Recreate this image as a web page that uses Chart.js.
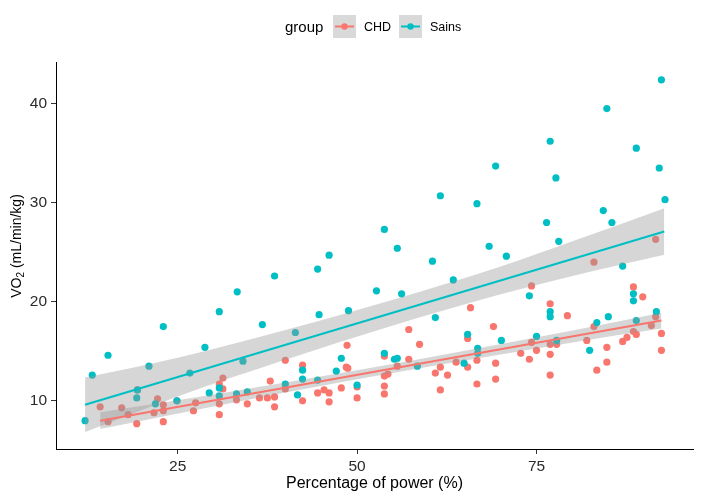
<!DOCTYPE html>
<html>
<head>
<meta charset="utf-8">
<script src="https://cdn.jsdelivr.net/npm/chart.js@4"></script>
<style>
  body { margin: 0; background: #fff; }
  #wrap { width: 701px; height: 501px; }
</style>
</head>
<body>
<div id="wrap"><canvas id="chart" width="701" height="501"></canvas></div>
<script>
// values
const groups = ["CHD", "Sains"];

const sainsX = [12.1, 13.1, 15.3, 19.4, 19.3, 21.9, 21.0, 23.0, 24.9, 26.7, 28.8, 29.4, 30.8, 30.8, 30.8,
  33.3, 33.2, 34.1, 34.7, 36.8, 38.5, 40.0, 41.4, 41.7, 42.4, 42.4, 44.5, 44.5, 44.7, 46.1, 47.1, 47.8,
  48.8, 50.0, 52.7, 53.8, 53.8, 55.2, 55.6, 55.6, 56.2, 58.4, 60.5, 60.9, 61.6, 63.4, 64.9, 65.4, 66.7,
  66.8, 66.8, 68.4, 69.3, 70.1, 70.8, 74.0, 75.0, 76.4, 76.9, 76.9, 76.9, 77.7, 77.8, 78.1, 82.4, 83.4,
  84.3, 84.8, 85.0, 85.5, 87.0, 88.5, 88.5, 88.9, 88.9, 91.7, 92.1, 92.4, 92.9];
const sainsY = [8.0, 12.6, 14.6, 11.1, 10.3, 9.7, 13.5, 17.5, 10.0, 12.8, 15.4, 10.8, 11.3, 10.5, 19.0,
  21.0, 10.7, 14.0, 10.9, 17.7, 22.6, 11.7, 16.9, 10.6, 13.1, 12.2, 23.3, 12.1, 18.7, 24.7, 13.0, 14.3,
  19.1, 11.6, 21.1, 27.3, 14.8, 14.2, 14.3, 25.4, 20.8, 13.5, 24.1, 18.4, 30.7, 22.2, 13.8, 16.7, 29.9,
  15.3, 14.8, 25.6, 33.7, 16.1, 24.6, 20.6, 16.5, 28.0, 36.2, 19.0, 18.5, 32.5, 16.1, 26.1, 15.1, 17.9,
  29.2, 39.5, 18.5, 28.0, 23.6, 20.8, 20.1, 35.5, 18.1, 19.0, 33.5, 42.4, 30.3];

const chdX = [14.2, 15.3, 17.2, 18.1, 19.3, 19.4, 21.7, 22.2, 23.0, 23.0, 23.0, 24.9, 27.2, 27.5, 30.8,
  31.3, 31.3, 30.8, 30.8, 33.2, 34.7, 36.4, 37.5, 37.9, 38.5, 38.5, 40.0, 40.0, 42.4, 42.4, 44.5, 45.4,
  46.1, 46.1, 47.8, 48.5, 48.7, 48.6, 50.0, 50.0, 53.8, 53.8, 53.8, 53.8, 54.3, 55.6, 57.2, 57.2, 58.7,
  60.9, 61.6, 61.6, 62.6, 63.8, 65.4, 65.4, 65.8, 66.7, 66.7, 69.0, 69.3, 69.3, 72.8, 74.0, 74.3, 74.3,
  75.0, 76.9, 76.9, 76.9, 76.9, 77.8, 79.3, 82.0, 83.0, 83.0, 83.4, 84.8, 84.8, 87.0, 87.6, 88.5, 88.5,
  88.9, 89.8, 91.0, 91.6, 91.6, 92.4, 92.4];
const chdY = [9.4, 7.9, 9.3, 8.6, 7.7, 11.1, 8.8, 10.2, 9.6, 9.0, 7.9, 10.0, 9.0, 9.8, 11.7,
  12.3, 11.2, 9.7, 8.6, 10.1, 9.7, 10.3, 10.3, 12.0, 10.4, 9.4, 14.1, 11.2, 13.6, 10.0, 10.8, 11.1,
  10.8, 9.9, 11.3, 13.4, 13.3, 15.6, 11.4, 10.3, 14.5, 12.5, 11.5, 10.7, 12.7, 13.5, 17.2, 14.2, 15.7,
  12.8, 13.4, 11.1, 12.6, 13.9, 13.4, 16.3, 19.4, 14.1, 11.7, 17.5, 13.8, 12.2, 14.8, 14.2, 21.6, 15.9,
  15.1, 19.8, 15.7, 14.7, 12.6, 15.7, 18.6, 16.1, 24.0, 17.5, 13.1, 15.4, 13.9, 16.0, 16.4, 21.5, 17.0,
  16.7, 20.5, 17.6, 18.5, 26.3, 16.8, 15.1];

// fitted lines and confidence bands
const sainsFitX = [12.1, 92.8];
const sainsFitY = [9.6, 27.1];
const sainsBandX = [12.1, 25, 40, 55, 70, 80, 92.8];
const sainsBandHi = [12.35, 14.35, 17.15, 20.2, 23.55, 26.1, 29.45];
const sainsBandLo = [6.85, 10.45, 14.15, 17.6, 20.75, 22.6, 24.75];

const chdFitX = [14.2, 92.4];
const chdFitY = [8.0, 18.1];
const chdBandX = [14.2, 30, 50, 65, 80, 92.4];
const chdBandHi = [8.85, 10.64, 13.08, 15.06, 17.1, 18.9];
const chdBandLo = [7.15, 9.44, 12.18, 14.06, 15.9, 17.3];

const xTicks = [25, 50, 75];
const yTicks = [10, 20, 30, 40];

const RED = "#F8766D";
const TEAL = "#00BFC4";
const BAND = "rgba(153,153,153,0.4)";
const FONT = "'Liberation Sans', Arial, sans-serif";

const pts = (xs, ys) => xs.map((x, i) => ({ x: x, y: ys[i] }));

function band(xs, ys, fill) {
  return {
    type: "line", data: pts(xs, ys), pointRadius: 0, borderWidth: 0,
    backgroundColor: BAND, fill: fill, cubicInterpolationMode: "monotone", order: 1
  };
}

// legend + y title drawn by hand (gray key boxes, subscript)
const extras = {
  id: "extras",
  afterDraw(chart) {
    const ctx = chart.ctx;
    ctx.save();
    ctx.textBaseline = "middle";
    ctx.fillStyle = "#000";
    ctx.font = "15px " + FONT;
    ctx.fillText("group", 285, 28);

    const keys = [{ x: 333, col: RED, label: groups[0], tx: 364 }, { x: 399, col: TEAL, label: groups[1], tx: 430 }];
    keys.forEach(k => {
      ctx.fillStyle = "#d9d9d9";
      ctx.fillRect(k.x, 15, 23, 23);
      ctx.strokeStyle = k.col;
      ctx.lineWidth = 2;
      ctx.beginPath();
      ctx.moveTo(k.x + 2, 26.5);
      ctx.lineTo(k.x + 21, 26.5);
      ctx.stroke();
      ctx.fillStyle = k.col;
      ctx.beginPath();
      ctx.arc(k.x + 11.5, 26.5, 3.2, 0, Math.PI * 2);
      ctx.fill();
      ctx.fillStyle = "#000";
      ctx.font = "12.5px " + FONT;
      ctx.fillText(k.label, k.tx, 28);
    });

    // y axis title: VO2 (mL/min/kg)
    ctx.translate(17, 246);
    ctx.rotate(-Math.PI / 2);
    ctx.font = "14px " + FONT;
    const a = "VO", c = " (mL/min/kg)";
    const wa = ctx.measureText(a).width;
    const wc = ctx.measureText(c).width;
    ctx.font = "10px " + FONT;
    const wb = ctx.measureText("2").width;
    let x0 = -(wa + wb + wc) / 2;
    ctx.font = "14px " + FONT;
    ctx.fillText(a, x0, 0);
    ctx.font = "10px " + FONT;
    ctx.fillText("2", x0 + wa, 4);
    ctx.font = "14px " + FONT;
    ctx.fillText(c, x0 + wa + wb, 0);
    ctx.restore();
  }
};

const ctx = document.getElementById("chart").getContext("2d");

new Chart(ctx, {
  type: "scatter",
  data: {
    datasets: [
      { label: "Sains", data: pts(sainsX, sainsY), backgroundColor: TEAL, borderWidth: 0, pointRadius: 3.6, order: 2 },
      { label: "CHD", data: pts(chdX, chdY), backgroundColor: RED, borderWidth: 0, pointRadius: 3.6, order: 3 },
      band(chdBandX, chdBandHi, "+1"),
      band(chdBandX, chdBandLo, false),
      band(sainsBandX, sainsBandHi, "+1"),
      band(sainsBandX, sainsBandLo, false),
      { type: "line", data: pts(chdFitX, chdFitY), borderColor: RED, borderWidth: 2, pointRadius: 0, fill: false, order: 0 },
      { type: "line", data: pts(sainsFitX, sainsFitY), borderColor: TEAL, borderWidth: 2, pointRadius: 0, fill: false, order: 0 }
    ]
  },
  options: {
    responsive: false,
    animation: false,
    layout: { padding: { top: 62, right: 8, left: 0, bottom: 0 } },
    plugins: { legend: { display: false }, tooltip: { enabled: false } },
    scales: {
      x: {
        type: "linear", min: 8.05, max: 96.8,
        afterBuildTicks: s => { s.ticks = xTicks.map(v => ({ value: v })); },
        afterFit: s => { s.height = 52; },
        grid: { drawOnChartArea: false, drawTicks: true, tickLength: 5, tickColor: "#333" },
        border: { display: true, color: "#000", width: 1 },
        ticks: { font: { family: FONT, size: 15.5 }, color: "#2b2b2b", padding: 3 },
        title: { display: true, text: "Percentage of power (%)", color: "#000",
          font: { family: FONT, size: 16 }, padding: { top: 0, bottom: 8 } }
      },
      y: {
        type: "linear", min: 5.14, max: 44.2,
        afterBuildTicks: s => { s.ticks = yTicks.map(v => ({ value: v })); },
        afterFit: s => { s.width = 56; },
        grid: { drawOnChartArea: false, drawTicks: true, tickLength: 5, tickColor: "#333" },
        border: { display: true, color: "#000", width: 1 },
        ticks: { font: { family: FONT, size: 15.5 }, color: "#2b2b2b", padding: 4 }
      }
    }
  },
  plugins: [extras]
});
</script>
</body>
</html>
